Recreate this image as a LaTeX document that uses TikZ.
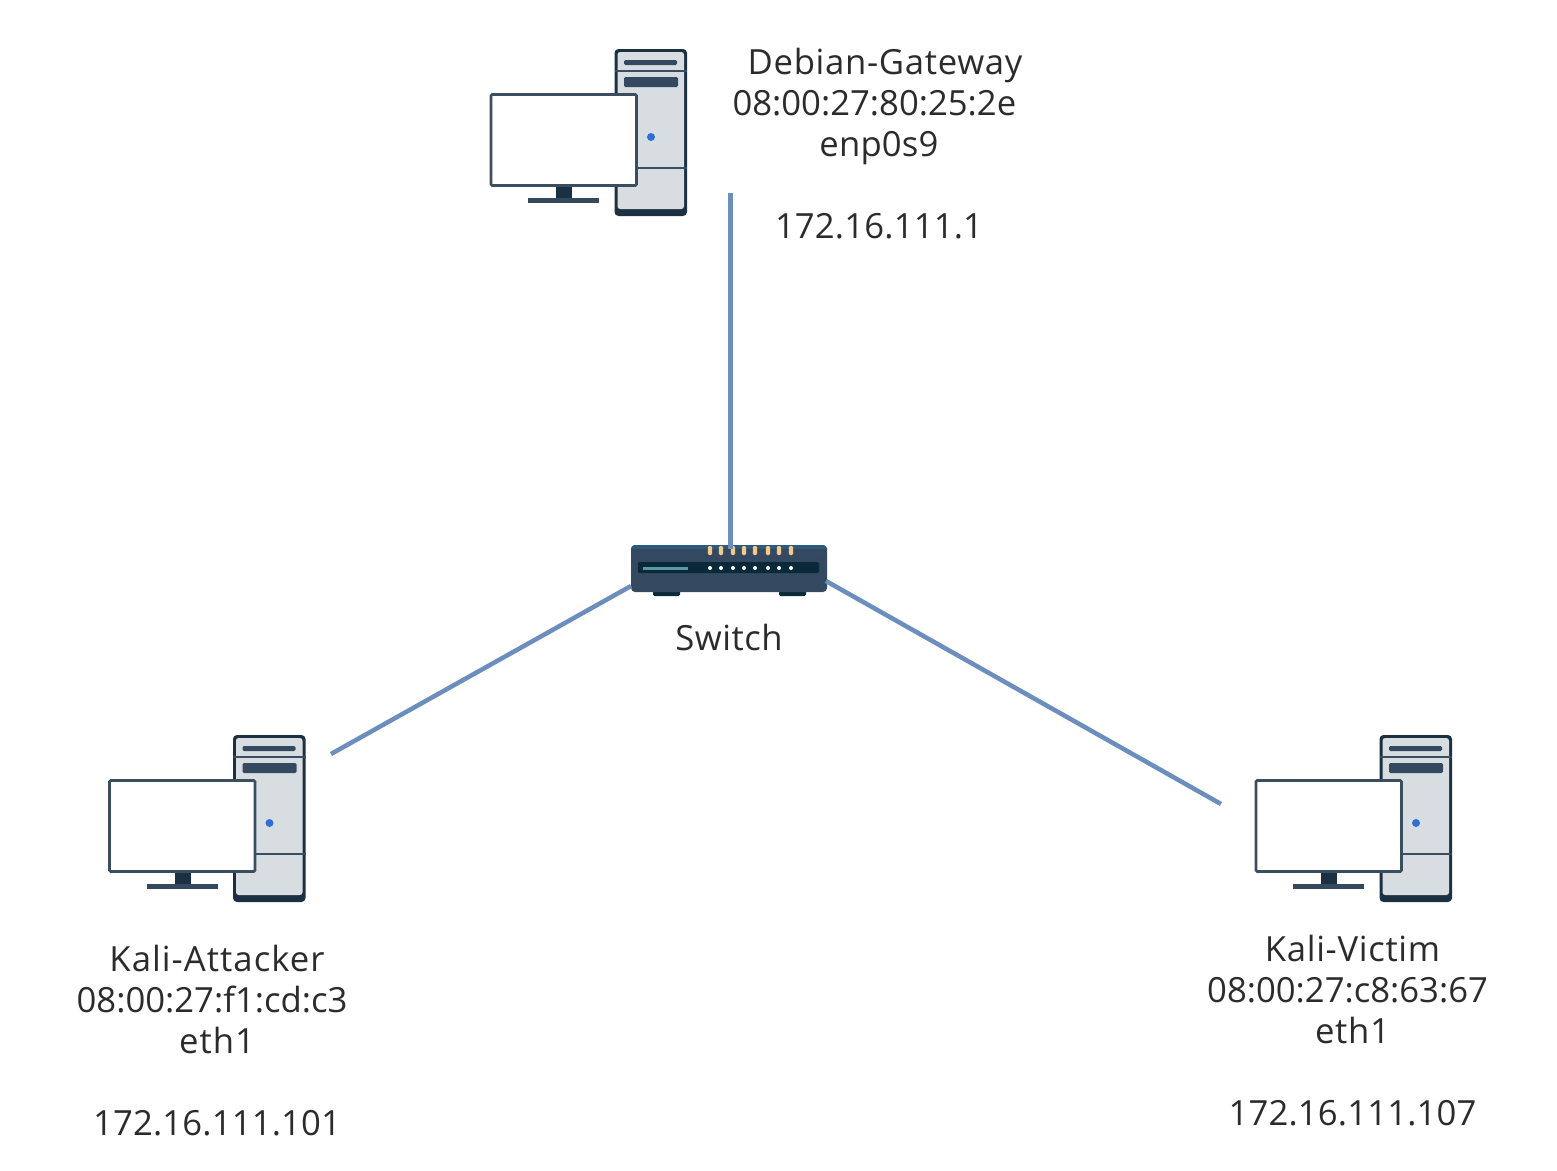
\documentclass[tikz,border=0pt]{standalone}
\usepackage{fontspec}
\setmainfont{Open Sans}
\definecolor{linkblue}{HTML}{6C8EBF}
\definecolor{towerdark}{HTML}{1C3044}
\definecolor{towergrey}{HTML}{D8DDE2}
\definecolor{slotblue}{HTML}{34495F}
\definecolor{framegrey}{HTML}{3B4E60}
\definecolor{ledblue}{HTML}{2D6FD8}
\definecolor{panelblue}{HTML}{0A2A3A}
\definecolor{bandblue}{HTML}{2F5A80}
\definecolor{barteal}{HTML}{5B9AA5}
\definecolor{ledorange}{HTML}{F5C98A}
\definecolor{textgrey}{HTML}{2B2B2B}
\newcommand{\spaced}[2]{{\addfontfeature{LetterSpace=#1}#2}}
\tikzset{
  link/.style={draw=linkblue, line width=3.4pt},
  hostlabel/.style={align=center, text=textgrey, inner sep=0pt, font=\fontsize{26}{30.75}\selectfont},
  computer/.pic={
    % Tower
    \fill[towerdark, rounded corners=3pt] (124.5,-45) rectangle (197,122);
    \fill[towergrey, rounded corners=2pt] (127.5,-42) rectangle (194,115);
    \draw[framegrey, line width=1pt] (124.5,-23) -- (197,-23) (124.5,74) -- (197,74);
    \fill[slotblue, rounded corners=1pt] (134,-34) rectangle (187,-29);
    \fill[slotblue, rounded corners=1pt] (134,-17) rectangle (188,-7);
    \fill[ledblue] (161,43) circle (3pt);
    % Monitor
    \draw[framegrey, fill=white, line width=2pt, rounded corners=1pt] (1,0.5) rectangle (146.5,91.5);
    \fill[towerdark] (66,93) rectangle (82,104);
    \fill[slotblue] (38,104) rectangle (109,109);
  }
}
\begin{document}
\begin{tikzpicture}[x=0.75pt, y=-0.75pt]
  \useasboundingbox (0,0) rectangle (1557,1171);

  % Computers
  \pic (gateway) at (490,94) {computer};
  \pic (attacker) at (108.5,780) {computer};
  \pic (victim) at (1255,780) {computer};

  % Switch
  \fill[panelblue, rounded corners=1pt] (653,590) rectangle (680,596);
  \fill[panelblue, rounded corners=1pt] (779,590) rectangle (806,596);
  \node[fill=slotblue, rounded corners=3pt, minimum width=147pt, minimum height=35.25pt, inner sep=0pt] (switch) at (729,568.5) {};
  \fill[bandblue, rounded corners=3pt] (631,545) rectangle (827,552);
  \fill[slotblue] (631,549) rectangle (827,552);
  \fill[panelblue, rounded corners=1pt] (638,562) rectangle (819,573);
  \fill[barteal] (643,566.5) rectangle (688,569.5);
  \foreach \x in {710,721,733,744,755,768,779,791}
  {
    \fill[ledorange, rounded corners=1pt] (\x-2.1,546) rectangle (\x+2.1,555);
    \fill[white] (\x,568) circle (1.5pt);
  }

  % Links
  \coordinate (gatewayport) at (730.5,193);
  \coordinate (switchtop) at (730.5,549);
  \coordinate (switchleft) at (631,586);
  \coordinate (switchright) at (826,581);
  \coordinate (attackerport) at (331,754);
  \coordinate (victimport) at (1221,804);
  \draw[link] (gatewayport) -- (switchtop);
  \draw[link] (switchleft) -- (attackerport);
  \draw[link] (switchright) -- (victimport);

  % Labels
  \node[hostlabel] (gatewaylabel) at (879,144) {\hspace*{9pt}\spaced{2}{Debian-Gateway}\\08:00:27:80:25:2e\hspace*{7pt}\mbox{}\\\spaced{0.5}{enp0s9}\\ \\\spaced{0.5}{172.16.111.1}};
  \node[hostlabel] (switchlabel) at (729,637.5) {\spaced{1.5}{Switch}};
  \node[hostlabel] (attackerlabel) at (217,1041) {\spaced{3}{Kali-Attacker}\\08:00:27:f1:cd:c3\hspace*{7.5pt}\mbox{}\\\spaced{3}{eth1}\\ \\\spaced{0.5}{172.16.111.101}};
  \node[hostlabel] (victimlabel) at (1352.5,1030.5) {\spaced{2}{Kali-Victim}\\08:00:27:c8:63:67\hspace*{7.5pt}\mbox{}\\\spaced{2}{eth1}\\ \\\spaced{0.5}{172.16.111.107}};
\end{tikzpicture}
\end{document}
